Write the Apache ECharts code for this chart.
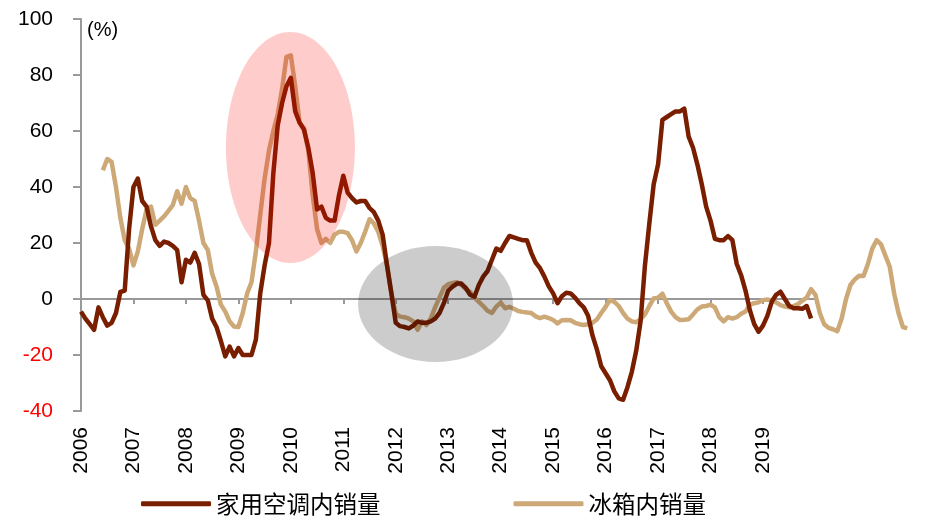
<!DOCTYPE html>
<html>
<head>
<meta charset="utf-8">
<script src="https://cdn.jsdelivr.net/npm/echarts@6/dist/echarts.min.js"></script>
<style>
  html, body { margin: 0; padding: 0; background: #fff; }
  #chart { width: 929px; height: 529px; }
</style>
</head>
<body>
<div id="chart"></div>
<script>
// monthly index from 2006-01 (0) onwards
const years = ['2006', '2007', '2008', '2009', '2010', '2011', '2012', '2013', '2014', '2015', '2016', '2017', '2018', '2019']

// 家用空调内销量 yoy (%), 2006-01 .. 2019-12
const acSales = [
  -4.5, -7, -9, -11, -3, -6.5, -9.5, -8.5, -5, 2.5, 3, 25,
  40, 43, 35, 33, 26, 21, 19, 20.5, 20, 19, 17.5, 6,
  14, 13, 16.5, 12.5, 1.5, -0.5, -7, -10, -15, -20.5, -17, -20.5,
  -17.5, -20, -20, -20, -14.5, 2, 12, 20, 45, 62, 70, 76,
  79, 67, 63, 60.5, 54, 45, 32, 33, 29, 28, 28, 37,
  44, 38, 36, 34.5, 35, 35, 32.5, 31, 28, 23, 12, 2,
  -8.5, -9.7, -10, -10.5, -9.5, -8, -8.5, -8.5, -8, -7, -5, -1.5,
  3, 4.4, 5.5, 5.5, 4, 1.5, 0.8, 5, 8, 10, 14, 18,
  17.2, 20, 22.5, 22, 21.5, 21, 21, 16.5, 13, 11, 8, 4.5,
  2, -1.5, 1, 2.2, 2, 0.5, -1.5, -3, -6, -13, -18, -24,
  -26.5, -29, -33, -35.5, -36, -31.5, -26, -18.5, -8, 12, 27, 41,
  48, 64, 65, 66, 67, 67, 68, 58, 54, 48, 41, 33,
  28, 21.5, 21, 21, 22.5, 21, 12.5, 8.5, 3, -4, -9, -11.7,
  -9.5, -6, -1, 1.5, 2.6, 0, -2.5, -3.3, -3.3, -3.5, -2.5, -7
]

// 冰箱内销量 yoy (%), 2006-01 .. 2021-10 (first months missing)
const fridgeSales = [
  null, null, null, null, null, 46, 50, 49, 40, 29, 21, 18,
  12, 17, 25, 32, 33, 26.5, 28, 29.5, 31.5, 33.5, 38.5, 34,
  40, 36, 35, 28, 20, 17.5, 9, 4.5, -2, -4.5, -8, -9.8,
  -10, -5, 2, 6, 17, 30, 43, 53, 60, 66, 75, 86.5,
  87, 76, 63, 61, 53, 37, 25, 20, 21.5, 20, 23, 24,
  24, 23.5, 21, 17, 20, 24, 28.5, 27, 24, 19, 12, 2,
  -5.3, -6.3, -6.5, -7, -8, -11, -8, -9.3, -7, -3, 0.5, 4,
  5.3, 5.7, 6, 5, 3.5, 2.5, 0.5, -1, -2.5, -4.2, -5, -2.7,
  -1.3, -3.3, -2.8, -3.5, -4.3, -4.6, -4.8, -5, -6.2, -6.8, -6.3, -6.8,
  -7.5, -8.7, -7.6, -7.5, -7.6, -8.5, -9, -9.3, -9, -8.5, -7.3, -5,
  -2.8, -0.4, -1, -2.5, -5, -7, -8, -8.3, -7.3, -5.5, -2.5, 0.2,
  0.5, 1.9, -1.5, -4.5, -6.5, -7.5, -7.4, -7.2, -5.5, -3.7, -2.7, -2.5,
  -2, -3, -6.5, -8, -6.5, -7, -6.5, -5.3, -4.5, -2, -1.5, -1.2,
  -0.4, -0.2, -0.5, -1.2, -2.2, -2.7, -3, -2.5, -1.8, -0.6, 0.5, 3.5,
  1.5, -5, -9, -10.3, -10.8, -11.5, -7, 0, 5, 7, 8.3, 8.2,
  12.5, 18, 21, 19.5, 15.5, 11.5, 2, -5, -10, -10.5
]

const AC_COLOR = '#7a1e00'
const FRIDGE_COLOR = '#cda978'
const AXIS_COLOR = '#999'
const MONTHS_AXIS = years.length * 12
const MONTH_PX = 52.46 / 12

const toPoints = arr => arr.map((v, i) => [i, v])

const chart = echarts.init(document.getElementById('chart'))

const gridLeft = 81
const gridTop = 19
const gridHeight = 392

const option = {
  animation: false,
  textStyle: { fontFamily: 'Liberation Sans, Arial, sans-serif' },
  title: {
    text: '(%)',
    left: 82,
    top: 15,
    textStyle: { fontSize: 20, fontWeight: 'normal', color: '#000', fontFamily: 'Liberation Sans, Arial' },
  },
  legend: {
    left: 141,
    top: 492,
    padding: 0,
    itemWidth: 70,
    itemHeight: 5,
    itemGap: 133,
    icon: 'roundRect',
    textStyle: { fontSize: 23.5, color: '#000', fontFamily: 'Noto Sans CJK SC' },
    data: ['家用空调内销量', '冰箱内销量'],
  },
  grid: [
    { left: gridLeft, top: gridTop, width: MONTHS_AXIS * MONTH_PX, height: gridHeight },
    { left: gridLeft, top: gridTop, width: (fridgeSales.length - 1) * MONTH_PX, height: gridHeight },
  ],
  xAxis: [
    {
      // axis line on zero with ticks
      type: 'value', gridIndex: 0, min: 0, max: MONTHS_AXIS, interval: 12,
      axisLine: { onZero: true, lineStyle: { color: AXIS_COLOR, width: 2 } },
      axisTick: { show: true, length: 5, lineStyle: { color: AXIS_COLOR, width: 2 } },
      axisLabel: { show: false },
      splitLine: { show: false },
    },
    {
      // year labels at the bottom
      type: 'value', gridIndex: 0, min: 0, max: MONTHS_AXIS, interval: 12,
      position: 'bottom',
      axisLine: { show: false, onZero: false },
      axisTick: { show: false },
      splitLine: { show: false },
      axisLabel: {
        rotate: 90, margin: 16, fontSize: 21, color: '#000',
        showMaxLabel: false,
        formatter: v => (v < MONTHS_AXIS ? years[v / 12] : ''),
      },
    },
    {
      type: 'value', gridIndex: 1, min: 0, max: fridgeSales.length - 1, show: false,
    },
  ],
  yAxis: [
    {
      type: 'value', gridIndex: 0, min: -40, max: 100, interval: 20,
      axisLine: { show: true, lineStyle: { color: AXIS_COLOR, width: 2 } },
      axisTick: { show: true, length: 8, lineStyle: { color: AXIS_COLOR, width: 2 } },
      splitLine: { show: false },
      axisLabel: {
        margin: 28, fontSize: 21,
        color: v => (v < 0 ? '#ff0000' : '#000'),
      },
    },
    { type: 'value', gridIndex: 1, min: -40, max: 100, show: false },
  ],
  series: [
    {
      name: '家用空调内销量',
      type: 'line',
      xAxisIndex: 0,
      yAxisIndex: 0,
      data: toPoints(acSales),
      showSymbol: false,
      symbol: 'none',
      lineStyle: { color: AC_COLOR, width: 4.5, join: 'round' },
      itemStyle: { color: AC_COLOR },
      z: 3,
    },
    {
      name: '冰箱内销量',
      type: 'line',
      xAxisIndex: 2,
      yAxisIndex: 1,
      data: toPoints(fridgeSales),
      showSymbol: false,
      symbol: 'none',
      lineStyle: { color: FRIDGE_COLOR, width: 4.5, join: 'round' },
      itemStyle: { color: FRIDGE_COLOR },
      z: 2,
    },
  ],
}

chart.setOption(option)

// highlight ellipses, centred on data coordinates
const highlights = [
  { month: 47.9, value: 54.1, rx: 64.5, ry: 115.5, fill: 'rgba(255,0,0,0.2)' },
  { month: 81.1, value: -1.8, rx: 77.5, ry: 58, fill: 'rgba(0,0,0,0.2)' },
]
chart.setOption({
  graphic: highlights.map(h => {
    const [cx, cy] = chart.convertToPixel({ xAxisIndex: 0, yAxisIndex: 0 }, [h.month, h.value])
    return {
      type: 'ellipse',
      shape: { cx, cy, rx: h.rx, ry: h.ry },
      style: { fill: h.fill },
      z: 100,
      silent: true,
    }
  }),
})
</script>
</body>
</html>
